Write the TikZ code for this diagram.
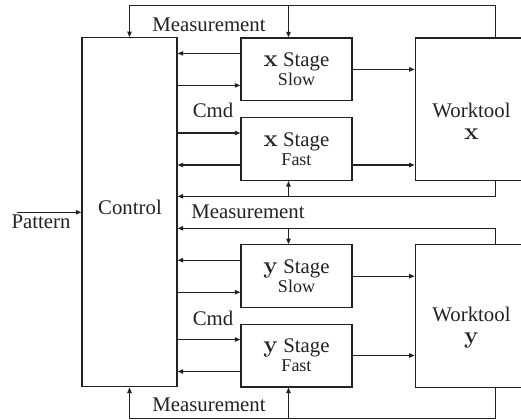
\documentclass[tikz,border=0pt]{standalone}
\usepackage[no-math]{fontspec}
\setmainfont{Liberation Serif}
\usepackage{amsmath}
\usetikzlibrary{positioning}
\usetikzlibrary{calc}
\usetikzlibrary{arrows.meta}
\definecolor{ink}{RGB}{34,34,34}
\tikzset{
  box/.style={draw=ink, line width=0.6pt, inner sep=0pt, align=center},
  stagebox/.style={box, minimum width=55.5pt, minimum height=31.4pt},
  toolbox/.style={box, minimum width=56pt, minimum height=71.4pt},
  lbl/.style={text=ink, inner sep=0pt},
  sig/.style={draw=ink, line width=0.6pt},
}
\newcommand{\axis}[1]{{\fontsize{11.5}{12}\selectfont$\mathbf{#1}$}}
\newcommand{\stg}[2]{\axis{#1}~Stage\\[-2.5pt]{\fontsize{9}{10}\selectfont #2}}

\begin{document}
\begin{tikzpicture}[x=0.5pt, y=-0.5pt, >={Triangle[length=2.8pt,width=2.2pt]},
    every node/.style={font=\fontsize{10.4}{12}\selectfont, text=ink}]
    \useasboundingbox (0,0) rectangle (521,419);
    \clip (0,0) rectangle (521,419);

    % blocks
    \node[box, minimum width=47.5pt, minimum height=174.5pt] (ctrl) at (129.5,212.3) {};
    \node[lbl] (ctrltxt) at (130,207) {Control};
    \node[stagebox] (xslow) at (296.5,69.4) {\stg{x}{Slow}};
    \node[stagebox] (xfast) at (296.5,149) {\stg{x}{Fast}};
    \node[stagebox] (yslow) at (296.5,276.2) {\stg{y}{Slow}};
    \node[stagebox] (yfast) at (296.5,355.5) {\stg{y}{Fast}};
    \node[toolbox] (wtx) at (471.3,109.4) {};
    \node[toolbox] (wty) at (471.3,315.9) {};
    \node[lbl, align=center] (wtxtxt) at (471.5,121) {Worktool\\[-1pt]\axis{x}};
    \node[lbl, align=center] (wtytxt) at (471.5,327.5) {Worktool\\[-1pt]\axis{y}};

    % commands and stage read-back
    \foreach \s/\a/\b in {xslow/8/-8, xfast/-8/8, yslow/8/-8, yfast/-8/8} {
        \draw[sig,->] ([yshift=\a pt]\s.west) coordinate (o) -- (o -| ctrl.east);
        \draw[sig,<-] ([yshift=\b pt]\s.west) coordinate (i) -- (i -| ctrl.east);
    }
    \draw[sig,->] (xslow.east) -- (xslow.east -| wtx.west);
    \draw[sig,->] ([yshift=-8pt]xfast.east) coordinate (xf) -- (xf -| wtx.west);
    \draw[sig,->] (yslow.east) -- (yslow.east -| wty.west);
    \draw[sig,->] (yfast.east) -- (yfast.east -| wty.west);

    % measurement loops
    \coordinate (xtap) at ([xshift=-4pt]xslow.north);
    \coordinate (ytap) at ([xshift=-4pt]yfast.south);
    \draw[sig,->] ([xshift=12pt]wtx.north) |- ([yshift=16pt]ctrl.north) -- (ctrl.north);
    \draw[sig,->] ([yshift=16pt]xtap) -- (xtap);
    \draw[sig,->] ([xshift=12pt]wtx.south) |- ([yshift=8pt]ctrl.east) coordinate (busx);
    \draw[sig,->] (xtap |- busx) -- (xtap |- xfast.south);
    \draw[sig,->] ([xshift=12pt]wty.north) |- ([yshift=-8pt]ctrl.east) coordinate (busy);
    \draw[sig,->] (xtap |- busy) -- (xtap |- yslow.north);
    \draw[sig,->] ([xshift=12pt]wty.south) |- ([yshift=-15.4pt]ctrl.south) -- (ctrl.south);
    \draw[sig,->] ([yshift=-15.4pt]ytap) -- (ytap);

    % pattern input
    \coordinate (pin) at ([xshift=-32pt]ctrl.west);
    \draw[sig,->] (pin) -- (ctrl.west);

    % labels
    \node[lbl] (mtop) at (209,25) {Measurement};
    \node[lbl] (mmid) at (248,212) {Measurement};
    \node[lbl] (mbot) at (209,405) {Measurement};
    \node[lbl] (cmdx) at (213,110) {Cmd};
    \node[lbl] (cmdy) at (213,318) {Cmd};
    \node[lbl] (pat) at (41,222) {Pattern};
\end{tikzpicture}
\end{document}
